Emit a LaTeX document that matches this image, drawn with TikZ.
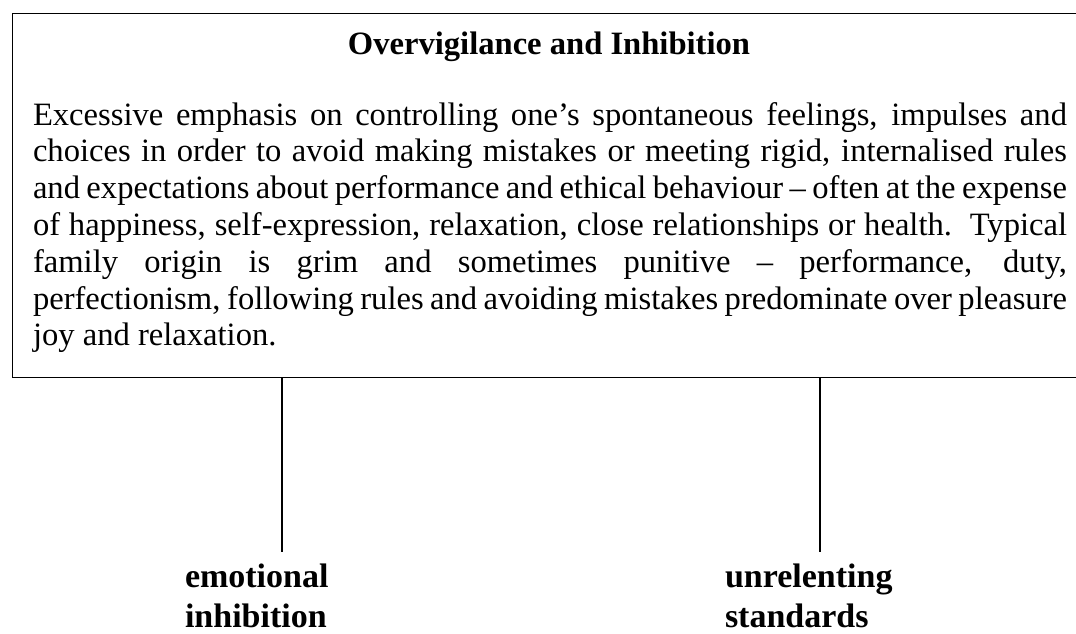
\documentclass[tikz,border=0pt]{standalone}
\usepackage{fontspec}
\setmainfont{Liberation Serif}
\usetikzlibrary{positioning}
\definecolor{couleurtrait}{HTML}{000000}
\definecolor{couleurtext}{HTML}{000000}
\newcommand{\lienvert}[2]{\draw[trait] (#1.south -| #2) -- (#2);}
\tikzset{
		basic/.style={inner sep=0pt, outer sep=0pt, text=couleurtext},
		cadre/.style={draw=couleurtrait, line width=1.4pt, minimum width=1080pt, minimum height=364pt, anchor=north west},
		titre/.style={basic, font=\bfseries, anchor=base},
		corps/.style={basic, text width=1034pt, align=justify, anchor=base west,
			execute at begin node={\spaceskip=0.25em plus 1em minus 0.15em\hyphenpenalty=10000\exhyphenpenalty=10000}},
		etiquette/.style={basic, font=\bfseries\fontsize{34}{40}\selectfont, align=left, anchor=base west},
		trait/.style={draw=couleurtrait, line width=1.6pt}
	}
\begin{document}
\begin{tikzpicture}[x=1pt, y=-1pt]
		\fontsize{32.6}{36.8} \selectfont
		\useasboundingbox (0,0) rectangle (1076,634);
		% encadre
		\node[cadre](schema) at (12,13) {};
		\node[titre](titre) at (549,55) {Overvigilance and Inhibition};
		\node[corps](corps) at (33,125) {Excessive emphasis on controlling one’s spontaneous feelings, impulses and\linebreak
			choices in order to avoid making mistakes or meeting rigid, internalised rules\linebreak
			and expectations about performance and ethical behaviour – often at the expense\linebreak
			of happiness, self-expression, relaxation, close relationships or health.\ \ Typical\linebreak
			family origin is grim and sometimes punitive – performance, duty,\linebreak
			perfectionism, following rules and avoiding mistakes predominate over pleasure\linebreak
			joy and relaxation.};
		% schemas
		\node[etiquette](emotinhi) at (185,627) {emotional\\inhibition};
		\node[etiquette](unrestan) at (725,627) {unrelenting\\standards};
		
		% Liens
		\coordinate (piedemot) at (282,552);
		\coordinate (piedunre) at (820,552);
		\lienvert{schema}{piedemot}
		\lienvert{schema}{piedunre}
	\end{tikzpicture}
\end{document}
